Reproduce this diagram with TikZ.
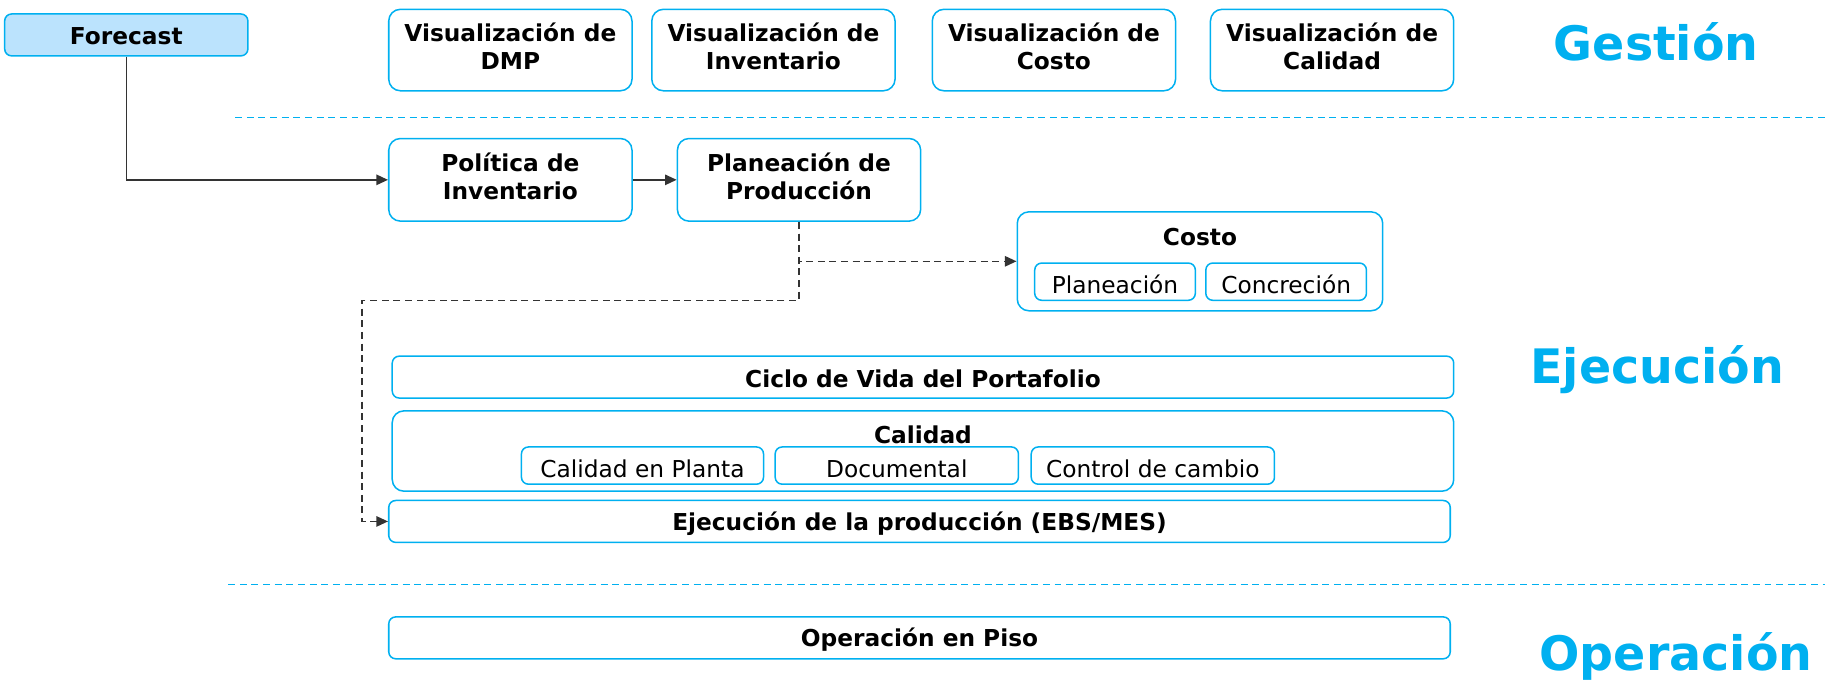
\documentclass[tikz,border=0pt]{standalone}
\usepackage{fontspec}
\setmainfont{DejaVu Sans}
\usetikzlibrary{arrows.meta}
\definecolor{cb}{HTML}{00B0F0}
\definecolor{fcfill}{HTML}{BBE3FD}
\definecolor{ln}{HTML}{333333}
\tikzset{
  wh/.style 2 args={minimum width=#1*0.5pt, minimum height=#2*0.5pt},
  bbox/.style={draw=cb, line width=0.65pt, rounded corners=5pt, inner sep=0pt},
  thin/.style={bbox, rounded corners=3pt},
  sub/.style={draw=cb, line width=0.65pt, rounded corners=3pt, inner sep=0pt},
  tb/.style 2 args={label={[inner sep=0pt, align=center, yshift=#2,
    font=\fontsize{10}{12}\selectfont\bfseries]center:{#1}}},
  tr/.style 2 args={label={[inner sep=0pt, align=center, yshift=#2,
    font=\fontsize{10}{12}\selectfont]center:{#1}}},
  ttl/.style={inner sep=0pt, font=\fontsize{10}{12}\selectfont\bfseries},
  lvl/.style={inner sep=0pt, text=cb, font=\fontsize{20.4}{24}\selectfont\bfseries},
  sep/.style={draw=cb, line width=0.6pt, dash pattern=on 3pt off 2pt},
  con/.style={draw=ln, line width=0.6pt, -{Triangle[length=5pt,width=4.5pt]}},
  dcon/.style={con, dash pattern=on 3pt off 2pt},
}
\begin{document}
\begin{tikzpicture}[x=0.5pt,y=-0.5pt]
\useasboundingbox (0,0) rectangle (1568,590);
% separators
\coordinate (s1a) at (202,101); \coordinate (s1b) at (1568,101);
\coordinate (s2a) at (196,502); \coordinate (s2b) at (1568,502);
\draw[sep] (s1a) -- (s1b);
\draw[sep] (s2a) -- (s2b);
% level labels
\node[lvl] (lg) at (1423,36) {Gestión};
\node[lvl] (le) at (1424,318) {Ejecución};
\node[lvl] (lo) at (1440,564) {Operación};
% Gestión
\node[thin, fill=fcfill, wh={209}{36}, tb={Forecast}{-0.6pt}] (fc) at (108.5,30) {};
\node[bbox, wh={209}{70}, tb={Visualización de\\DMP}{1.6pt}] (v1) at (438.5,43) {};
\node[bbox, wh={209}{70}, tb={Visualización de\\Inventario}{1.6pt}] (v2) at (664.5,43) {};
\node[bbox, wh={209}{70}, tb={Visualización de\\Costo}{1.6pt}] (v3) at (905.5,43) {};
\node[bbox, wh={209}{70}, tb={Visualización de\\Calidad}{1.6pt}] (v4) at (1144.5,43) {};
% Ejecución
\node[bbox, wh={209}{71}, tb={Política de\\Inventario}{1.6pt}] (pol) at (438.5,154.5) {};
\node[bbox, wh={209}{71}, tb={Planeación de\\Producción}{1.6pt}] (plan) at (686.5,154.5) {};
\node[bbox, wh={314}{85}] (costo) at (1031,224.5) {};
\node[ttl] (costot) at (1031,204) {Costo};
\node[sub, wh={138}{32}, tr={Planeación}{-1.2pt}] (cp) at (958,242) {};
\node[sub, wh={138}{32}, tr={Concreción}{-1.2pt}] (cc) at (1105,242) {};
\node[thin, wh={912}{36}, tb={Ciclo de Vida del Portafolio}{-0.6pt}] (ciclo) at (793,324) {};
\node[bbox, wh={912}{69}] (cal) at (793,387.5) {};
\node[ttl] (calt) at (793,374) {Calidad};
\node[sub, wh={208}{32}, tr={Calidad en Planta}{-1.3pt}] (q1) at (552,400) {};
\node[sub, wh={209}{32}, tr={Documental}{-1.3pt}] (q2) at (770.5,400) {};
\node[sub, wh={209}{32}, tr={Control de cambio}{-1.3pt}] (q3) at (990.5,400) {};
\node[thin, wh={912}{36}, tb={Ejecución de la producción (EBS/MES)}{-0.8pt}] (ejec) at (790,448) {};
% Operación
\node[thin, wh={912}{36}, tb={Operación en Piso}{-0.8pt}] (op) at (790,548) {};
% connectors
\draw[con] (fc.south) |- (pol.west);
\draw[con] (pol.east) -- (plan.west);
\draw[dcon] (plan.south) |- (costo.west);
\coordinate (k1) at (686.5,258);
\coordinate (k2) at (311,258);
\draw[dcon] (plan.south) -- (k1) -- (k2) |- (ejec.west);
\end{tikzpicture}
\end{document}
